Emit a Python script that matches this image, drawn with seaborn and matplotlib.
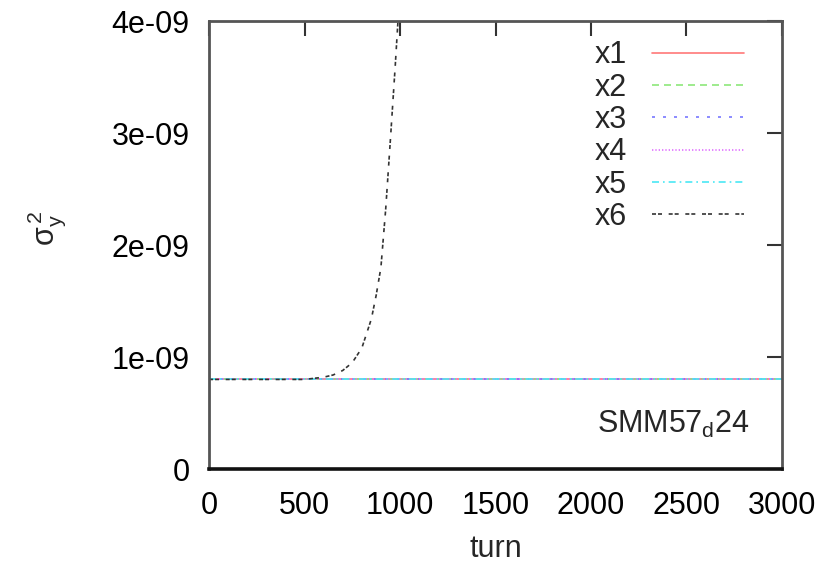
import matplotlib
matplotlib.use("Agg")
import matplotlib.pyplot as plt
import seaborn as sns
import pandas as pd

# beam size evolution, sigma_y^2 per turn, for six cases
flat_turns = [0, 3000]
flat_values = [0.80e-9, 0.80e-9]

x6_turns = [0, 500, 550, 600, 650, 700, 750, 800, 850, 875, 900, 925, 950, 975, 1000]
x6_values = [0.80e-9, 0.80e-9, 0.81e-9, 0.82e-9, 0.84e-9, 0.88e-9, 0.95e-9, 1.08e-9,
             1.34e-9, 1.55e-9, 1.80e-9, 2.32e-9, 2.95e-9, 3.60e-9, 4.30e-9]

series_names = ["x1", "x2", "x3", "x4", "x5", "x6"]
x_ticks = [0, 500, 1000, 1500, 2000, 2500, 3000]
y_ticks = [0, 1e-9, 2e-9, 3e-9, 4e-9]
y_tick_labels = ["0", "1e-09", "2e-09", "3e-09", "4e-09"]

frames = []
for name in series_names[:5]:
    frames.append(pd.DataFrame({"turn": flat_turns, "sigma": flat_values, "case": name}))
frames.append(pd.DataFrame({"turn": x6_turns, "sigma": x6_values, "case": "x6"}))
df = pd.concat(frames, ignore_index=True)

sns.set_theme(style="white")
plt.rcParams["font.family"] = ["Liberation Sans", "DejaVu Sans"]
plt.rcParams["mathtext.fontset"] = "custom"
plt.rcParams["mathtext.rm"] = "Liberation Sans"
plt.rcParams["mathtext.it"] = "Liberation Sans:italic"
plt.rcParams["mathtext.default"] = "regular"

FS = 22

palette = {"x1": "#ff7878", "x2": "#8ee87a", "x3": "#7878ff",
           "x4": "#e070ff", "x5": "#4ae8f5", "x6": "#333333"}
dashes = {"x1": "", "x2": (4.2, 3), "x3": (1.8, 4.8), "x4": (0.8, 1.2),
          "x5": (4.2, 2.4, 1, 2.4), "x6": (2.4, 1.2, 2.4, 4)}

fig = plt.figure(figsize=(8.22, 5.67), dpi=100)
ax = fig.add_axes([0.2543, 0.1728, 0.697, 0.790])

sns.lineplot(data=df, x="turn", y="sigma", hue="case", style="case",
             palette=palette, dashes=dashes, hue_order=series_names,
             style_order=series_names, estimator=None, sort=False,
             linewidth=1.2, ax=ax, legend="full")

ax.set_xlim(0, 3000)
ax.set_ylim(0, 4e-9)
ax.set_xticks(x_ticks)
ax.set_xticklabels([str(t) for t in x_ticks])
ax.set_yticks(y_ticks)
ax.set_yticklabels(y_tick_labels)

ax.tick_params(axis="both", which="major", direction="in", length=10.5, width=1.5,
               top=True, right=True, labelsize=FS, colors="#333333",
               labelcolor="black")
ax.tick_params(axis="x", pad=15.5)
ax.tick_params(axis="y", pad=14)
for name, spine in ax.spines.items():
    spine.set_color("#555555")
    spine.set_linewidth(2.0)
ax.spines["bottom"].set_color("#111111")
ax.spines["bottom"].set_linewidth(2.6)

ax.set_xlabel("turn", fontsize=FS, labelpad=10)
ax.set_ylabel(r"$\sigma_{y}^{\,2}$", fontsize=FS)
ax.yaxis.set_label_coords(-0.246, 0.538)

handles, labels = ax.get_legend_handles_labels()
ax.legend(handles, labels, loc="upper right", bbox_to_anchor=(0.933, 0.957),
          borderaxespad=0, borderpad=0, frameon=False, markerfirst=False,
          fontsize=FS, handlelength=3.0, handletextpad=0.82, labelspacing=0.075)

ax.text(0.944, 0.080, r"SMM57$_{\rm d}$24", transform=ax.transAxes,
        ha="right", va="baseline", fontsize=FS)

fig.savefig("out.png", dpi=100)
